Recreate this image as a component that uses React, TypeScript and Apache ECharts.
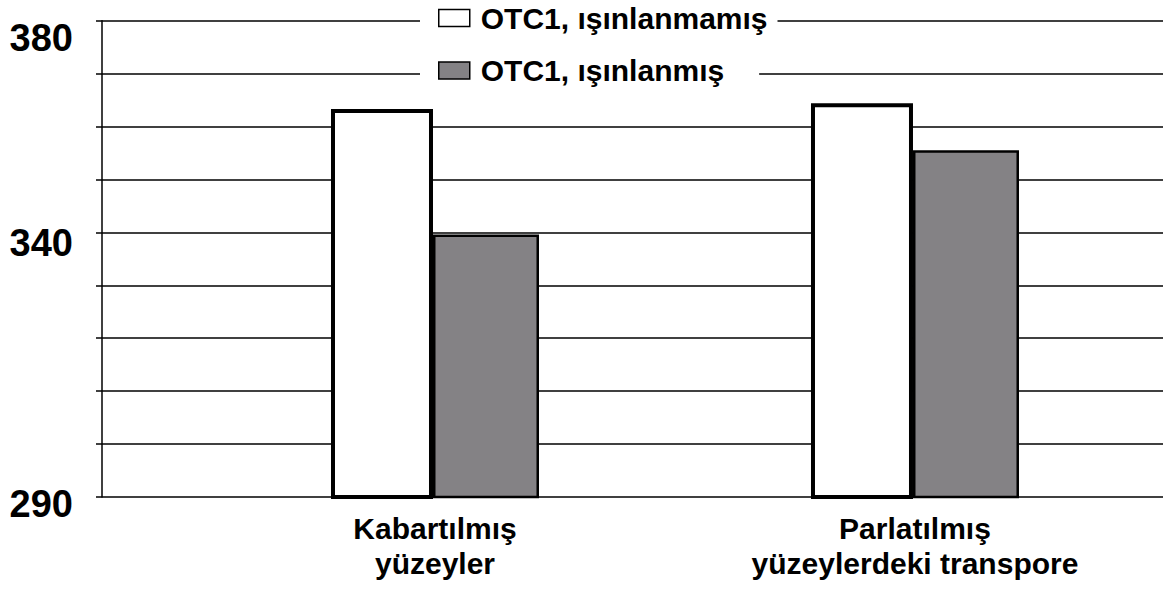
import React, { useEffect, useRef } from "react";
import * as echarts from "echarts";

const categories = ["Kabartılmış\nyüzeyler", "Parlatılmış\nyüzeylerdeki transpore"];
const seriesNames = ["OTC1, ışınlanmamış", "OTC1, ışınlanmış"];
const unirradiated = [363.3, 364.4];
const irradiated = [339.6, 355.5];
const yLabelValues = [290, 340, 380];

const FONT = "'Liberation Sans', Arial, sans-serif";

export default function App() {
  const ref = useRef<HTMLDivElement>(null);
  useEffect(() => {
    if (!ref.current) return;
    const chart = echarts.init(ref.current, undefined, { renderer: "svg" });
    const legendBase = {
      orient: "vertical",
      left: 420,
      selectedMode: false,
      backgroundColor: "#fff",
      itemWidth: 31,
      itemHeight: 17,
      icon: "rect",
      itemStyle: { borderWidth: 1.5, borderColor: "#000" },
      textStyle: {
        fontFamily: FONT,
        fontSize: 30,
        fontWeight: "bold",
        color: "#000",
        lineHeight: 30,
        padding: [0, 0, 0, 6],
      },
    };
    chart.setOption({
      animation: false,
      backgroundColor: "#fff",
      textStyle: { fontFamily: FONT },
      grid: { left: 102, right: 0, top: 20.7, bottom: 93, containLabel: false },
      legend: [
        { ...legendBase, data: [seriesNames[0]], top: 0, padding: [3, 10, 3, 18] },
        { ...legendBase, data: [seriesNames[1]], top: 52.5, padding: [3, 35, 3, 18] },
      ],
      xAxis: {
        type: "value",
        min: -0.69375,
        max: 1.5167,
        axisLine: { show: false, onZero: false },
        axisTick: { show: false },
        splitLine: { show: false },
        axisLabel: {
          customValues: [0, 1],
          formatter: (v: number) => categories[Math.round(v)] ?? "",
          fontFamily: FONT,
          fontSize: 30,
          fontWeight: "bold",
          color: "#000",
          lineHeight: 35,
          margin: 14,
        },
      },
      yAxis: {
        type: "value",
        min: 290,
        max: 380,
        interval: 10,
        axisLine: { show: true, onZero: false, lineStyle: { color: "#000", width: 1.5 } },
        axisTick: { show: true, length: 6, lineStyle: { color: "#000", width: 1.5 } },
        splitLine: { show: true, lineStyle: { color: "#000", width: 1.5 } },
        axisLabel: {
          margin: 29,
          formatter: (v: number) => {
            if (!yLabelValues.includes(v)) return "";
            if (v === 380) return "{a|" + v + "}";
            if (v === 340) return "{b|" + v + "}";
            return "{c|" + v + "}";
          },
          rich: {
            a: { fontFamily: FONT, fontSize: 38, fontWeight: "bold", color: "#000", padding: [34, 0, 0, 0] },
            b: { fontFamily: FONT, fontSize: 38, fontWeight: "bold", color: "#000", padding: [21, 0, 0, 0] },
            c: { fontFamily: FONT, fontSize: 38, fontWeight: "bold", color: "#000", padding: [14, 0, 0, 0] },
          },
        },
      },
      series: [
        {
          name: seriesNames[0],
          type: "bar",
          barWidth: 102,
          barGap: "0%",
          data: unirradiated.map((v, i) => [i, v]),
          itemStyle: { color: "#fff", borderColor: "#000", borderWidth: 4 },
        },
        {
          name: seriesNames[1],
          type: "bar",
          barWidth: 106,
          barGap: "0%",
          data: irradiated.map((v, i) => [i, v]),
          itemStyle: { color: "#848285", borderColor: "#000", borderWidth: 2.5 },
        },
      ],
    });
    return () => chart.dispose();
  }, []);
  return (
    <div
      ref={ref}
      style={{ position: "fixed", left: 0, top: 0, width: 1163, height: 590 }}
    />
  );
}
